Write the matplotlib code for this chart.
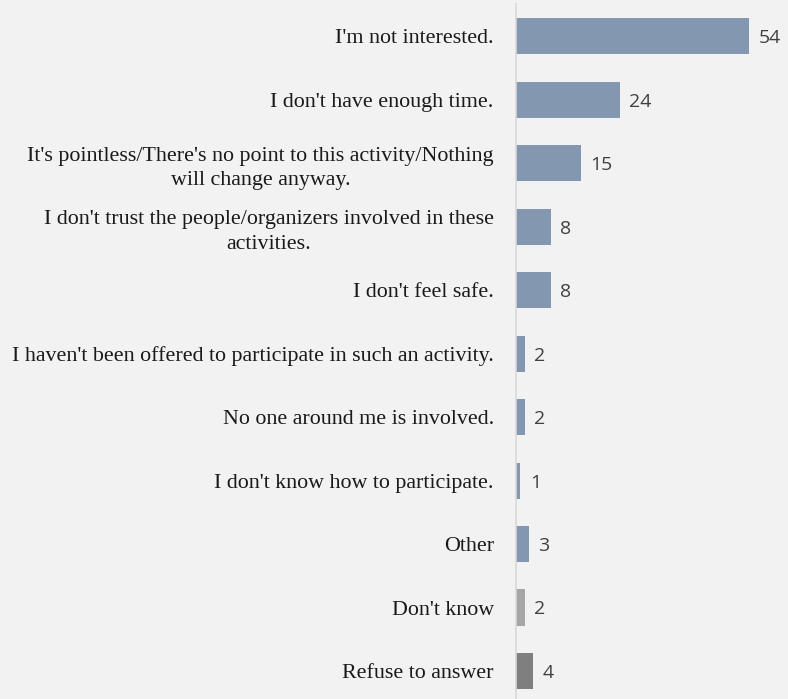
import matplotlib.pyplot as plt

# reasons for not taking part, top to bottom
reasons = [
    "I'm not interested.",
    "I don't have enough time.",
    "It's pointless/There's no point to this activity/Nothing\nwill change anyway.",
    "I don't trust the people/organizers involved in these\nactivities.",
    "I don't feel safe.",
    "I haven't been offered to participate in such an activity.",
    "No one around me is involved.",
    "I don't know how to participate.",
    "Other",
    "Don't know",
    "Refuse to answer",
]
counts = [54, 24, 15, 8, 8, 2, 2, 1, 3, 2, 4]
bar_colors = ["#8497b0"] * 9 + ["#a6a6a6", "#7f7f7f"]

bg = "#f2f2f2"
fig = plt.figure(figsize=(7.88, 6.99), dpi=100, facecolor=bg)
ax = fig.add_axes([516 / 788, 0, 272 / 788, 1 - 4.5 / 699])
ax.set_facecolor(bg)

ypos = list(range(len(reasons)))
ax.barh(ypos, counts, height=0.57, color=bar_colors)

for y, v in zip(ypos, counts):
    ax.text(v + 2.2, y + 0.03, str(v), va="center", ha="left",
            fontsize=14, color="#404040", family="Open Sans")

ax.set_xlim(0, 63)
ax.set_ylim(10.44, -0.5)
ax.set_yticks(ypos)
ax.set_yticklabels(reasons, fontsize=15.8, family="Liberation Serif",
                   color="#1a1a1a", multialignment="center", linespacing=1.4)
ax.tick_params(axis="y", length=0, pad=16)
ax.set_xticks([])

for side in ["top", "right", "bottom"]:
    ax.spines[side].set_visible(False)
ax.spines["left"].set_color("#d9d9d9")
ax.spines["left"].set_linewidth(1.2)

fig.savefig("out.png", dpi=100, facecolor=bg)
